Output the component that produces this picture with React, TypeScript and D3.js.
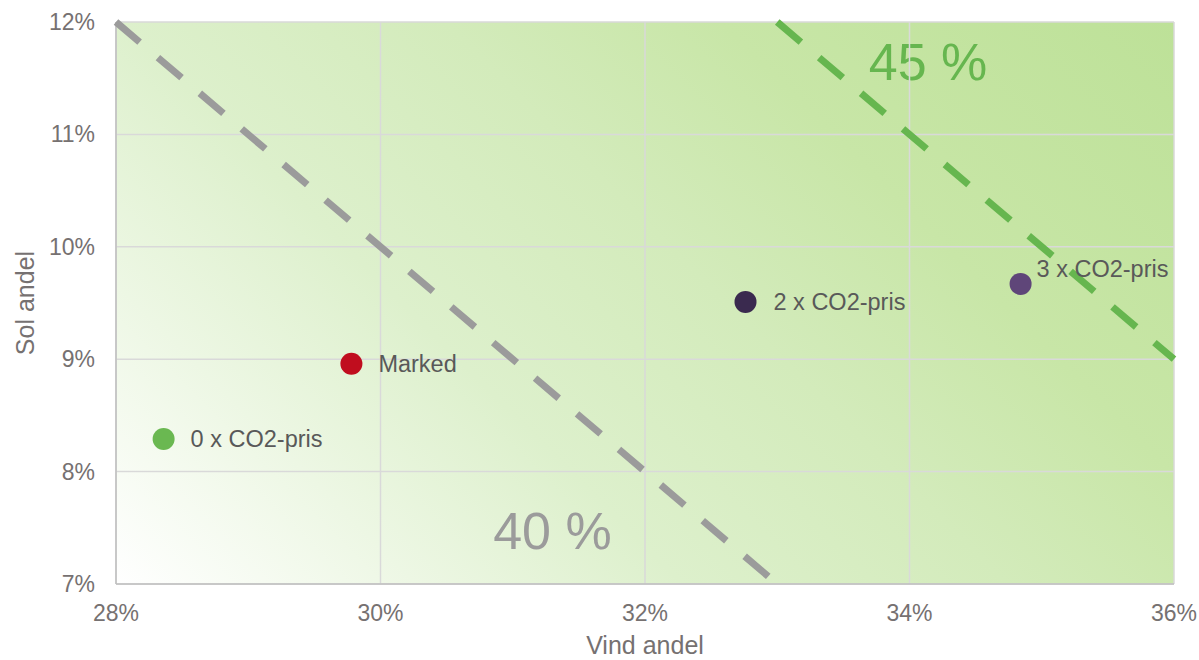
import React from "react";
import * as d3 from "d3";

// Scenario points: wind share (%) vs solar share (%)
const scenarioNames = ["0 x CO2-pris", "Marked", "2 x CO2-pris", "3 x CO2-pris"];
const windShare = [28.36, 29.78, 32.76, 34.84];
const solarShare = [8.29, 8.96, 9.51, 9.67];
const pointColors = ["#6ab851", "#c00d1e", "#3a2a4f", "#5f4679"];

// Iso-lines for total wind + solar share
const isoTotals = [40, 45];
const isoLabels = ["40 %", "45 %"];
const isoColors = ["#9b9b9b", "#66b64f"];

const xTicks = [28, 30, 32, 34, 36];
const yTicks = [7, 8, 9, 10, 11, 12];

const W = 1199;
const H = 660;
const M = { left: 116, right: 25, top: 22, bottom: 76 };

export default function App() {
  const x = d3.scaleLinear().domain([28, 36]).range([M.left, W - M.right]);
  const y = d3.scaleLinear().domain([7, 12]).range([H - M.bottom, M.top]);
  const [x0, x1] = x.range();
  const [y0, y1] = y.range();

  // clip each iso-line to the plot domain
  const isoSegment = (total: number) => {
    const xs = [Math.max(28, total - 12), Math.min(36, total - 7)];
    return xs.map((v) => [x(v), y(total - v)] as [number, number]);
  };
  const line = d3.line();

  // label placement inside the plot (data coordinates, text baseline)
  const isoLabelPos: [number, number][] = [
    [31.3, 7.31],
    [34.14, 11.48],
  ];
  const labelOffsets: [number, number][] = [
    [27, 0],
    [27, 0],
    [28, 0],
    [16, -15],
  ];
  const span = (x1 - x0 + (y0 - y1)) / 2;

  return (
    <svg width={W} height={H} style={{ position: "absolute", left: 0, top: 0 }}
      fontFamily="'Liberation Sans', Arial, sans-serif">
      <defs>
        <linearGradient id="bg" gradientUnits="userSpaceOnUse"
          x1={x0} y1={y0} x2={x0 + span} y2={y0 - span}>
          <stop offset="0" stopColor="#ffffff" />
          <stop offset="0.35" stopColor="#ddf0cc" />
          <stop offset="0.55" stopColor="#d3ebbb" />
          <stop offset="0.72" stopColor="#c8e6a7" />
          <stop offset="1" stopColor="#bde198" />
        </linearGradient>
      </defs>
      <rect x={x0} y={y1} width={x1 - x0} height={y0 - y1} fill="url(#bg)" />

      {isoLabels.map((t, i) => (
        <text key={t} x={x(isoLabelPos[i][0])} y={y(isoLabelPos[i][1])} textAnchor="middle"
          fontSize={52} fill={isoColors[i]}>{t}</text>
      ))}

      {/* gridlines */}
      {xTicks.map((v) => (
        <line key={"gx" + v} x1={x(v)} x2={x(v)} y1={y0} y2={y1} stroke="#d9d9d9" strokeWidth={1.5} />
      ))}
      {yTicks.map((v) => (
        <line key={"gy" + v} x1={x0} x2={x1} y1={y(v)} y2={y(v)} stroke="#d9d9d9" strokeWidth={1.5} />
      ))}
      {/* axes */}
      <line x1={x0} x2={x0} y1={y0} y2={y1} stroke="#bfbfbf" strokeWidth={1.5} />
      <line x1={x0} x2={x1} y1={y0} y2={y0} stroke="#bfbfbf" strokeWidth={1.5} />

      {isoTotals.map((t, i) => (
        <path key={t} d={line(isoSegment(t)) || ""} stroke={isoColors[i]} strokeWidth={7}
          strokeDasharray="31,24" fill="none" />
      ))}

      {scenarioNames.map((n, i) => (
        <g key={n}>
          <circle cx={x(windShare[i])} cy={y(solarShare[i])} r={11} fill={pointColors[i]} />
          <text x={x(windShare[i]) + labelOffsets[i][0]} y={y(solarShare[i]) + labelOffsets[i][1]}
            dy="0.35em" fontSize={23.5} fill="#595959">{n}</text>
        </g>
      ))}

      {xTicks.map((v) => (
        <text key={"tx" + v} x={x(v)} y={y0 + 29} dy="0.35em" textAnchor="middle" fontSize={23} fill="#767171">{v}%</text>
      ))}
      {yTicks.map((v) => (
        <text key={"ty" + v} x={x0 - 21} y={y(v)} dy="0.35em" textAnchor="end" fontSize={23} fill="#767171">{v}%</text>
      ))}

      <text x={(x0 + x1) / 2} y={654} textAnchor="middle" fontSize={25} fill="#767171">Vind andel</text>
      <text transform={`translate(25, ${(y0 + y1) / 2}) rotate(-90)`} dy="0.35em" textAnchor="middle"
        fontSize={25} fill="#767171">Sol andel</text>
    </svg>
  );
}
